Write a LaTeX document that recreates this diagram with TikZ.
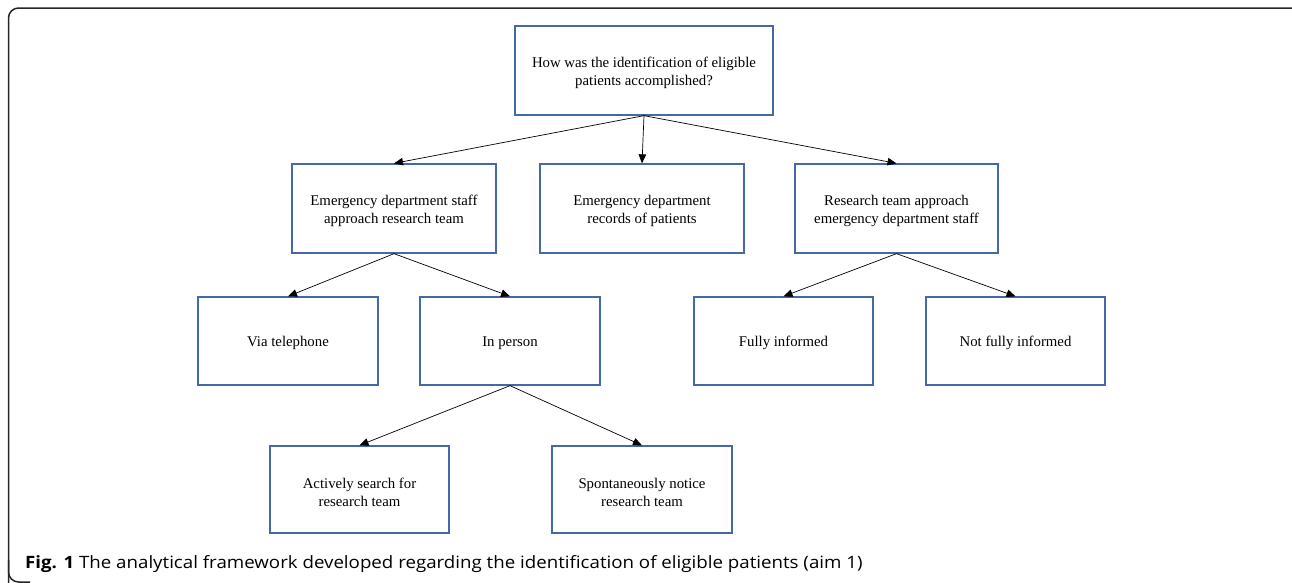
\documentclass[tikz,border=0pt]{standalone}
\usepackage{fontspec}
\setmainfont{Liberation Serif}
\newfontfamily\capfont{Open Sans}
\usetikzlibrary{arrows.meta}
\definecolor{boxblue}{RGB}{68,104,168}
\newcommand\liftone{\rule{0pt}{14pt}}
\newcommand\lifttwo{\rule{0pt}{15.8pt}}
\begin{document}
\begin{tikzpicture}[x=1pt,y=-1pt,
  nbox/.style={draw=boxblue,line width=1.3pt,align=center,inner sep=0pt,
    font=\fontsize{14.8}{18}\selectfont},
  conn/.style={line width=0.7pt,-{Triangle[length=9pt,width=7.5pt]}}]
\useasboundingbox (0,0) rectangle (1292,582);
\draw[line width=1.5pt,rounded corners=10pt,black!85] (8.5,600) -- (8.5,8) -- (1300,8);
\draw[line width=1.5pt,rounded corners=10pt,black!85] (8.5,560) -- (8.5,582) -- (30,582);
% nodes
\node[nbox,minimum width=258pt,minimum height=89pt] (q) at (644,70.5) {\lifttwo How was the identification of eligible\\patients accomplished?};
\node[nbox,minimum width=204pt,minimum height=89pt] (eds) at (394,208.5) {\lifttwo Emergency department staff\\approach research team};
\node[nbox,minimum width=204pt,minimum height=89pt] (rec) at (642,208.5) {\lifttwo Emergency department\\records of patients};
\node[nbox,minimum width=203pt,minimum height=89pt] (rt) at (896.5,208.5) {\lifttwo Research team approach\\emergency department staff};
\node[nbox,minimum width=180pt,minimum height=88pt] (tel) at (288,341) {\liftone Via telephone};
\node[nbox,minimum width=180pt,minimum height=88pt] (ip) at (510,341) {\liftone In person};
\node[nbox,minimum width=179pt,minimum height=88pt] (fi) at (783.5,341) {\liftone Fully informed};
\node[nbox,minimum width=179pt,minimum height=88pt] (nfi) at (1015.5,341) {\liftone Not fully informed};
\node[nbox,minimum width=179pt,minimum height=87pt] (as) at (359.5,489.5) {\lifttwo Actively search for\\research team};
\node[nbox,minimum width=180pt,minimum height=87pt] (sn) at (642,489.5) {\lifttwo Spontaneously notice\\research team};
% connectors
\draw[conn] (q.south) -- (eds.north);
\draw[conn] (q.south) -- (rec.north);
\draw[conn] (q.south) -- (rt.north);
\draw[conn] (eds.south) -- (tel.north);
\draw[conn] (eds.south) -- (ip.north);
\draw[conn] (ip.south) -- (as.north);
\draw[conn] (ip.south) -- (sn.north);
\draw[conn] (rt.south) -- (fi.north);
\draw[conn] (rt.south) -- (nfi.north);
% caption
\node[anchor=base west,inner sep=0pt] (cap) at (25,568) {\scalebox{1.1}[1]{\capfont\fontsize{17}{20}\selectfont\textbf{Fig. 1} The analytical framework developed regarding the identification of eligible patients (aim 1)}};
\end{tikzpicture}
\end{document}
